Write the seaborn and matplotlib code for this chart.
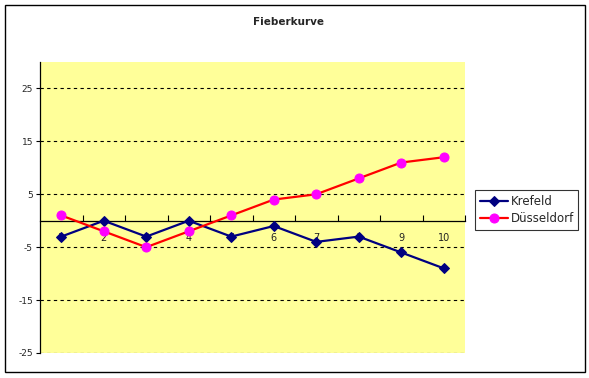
import numpy as np
import pandas as pd
import seaborn as sns
import matplotlib.pyplot as plt
from matplotlib.patches import Rectangle
from matplotlib.ticker import FixedLocator

days = [1, 2, 3, 4, 5, 6, 7, 8, 9, 10]
krefeld = [-3, 0, -3, 0, -3, -1, -4, -3, -6, -9]
duesseldorf = [1, -2, -5, -2, 1, 4, 5, 8, 11, 12]
y_ticks = [-25, -15, -5, 5, 15, 25]

sns.set_style("white")
plt.rcParams["font.family"] = ["DejaVu Sans"]

fig = plt.figure(figsize=(5.89, 3.78), dpi=100)
ax = fig.add_axes([40 / 589, 25 / 378, 425 / 589, 291 / 378])
ax.set_facecolor("#FFFF99")
ax.set_axisbelow(True)

sns.lineplot(x=days, y=krefeld, ax=ax, color="#000080", marker="D",
             markersize=5.5, markerfacecolor="#000080", markeredgecolor="#000080",
             linewidth=1.6, label="Krefeld", zorder=3)
sns.lineplot(x=days, y=duesseldorf, ax=ax, color="#FF0000", marker="o",
             markersize=6.5, markerfacecolor="#FF00FF", markeredgecolor="#FF00FF",
             linewidth=1.6, label="Düsseldorf", zorder=3)

ax.set_xlim(0.5, 10.5)
ax.set_ylim(-25, 30)

# y axis
ax.set_yticks(y_ticks)
ax.set_yticklabels([str(v) for v in y_ticks])
ax.tick_params(axis="y", direction="out", length=3, width=0.8, labelsize=6.5,
               pad=2, left=True, color="black")
for v in y_ticks:
    ax.axhline(v, color="black", linestyle=(0, (3, 3)), linewidth=0.8, zorder=1)

# x axis at zero
ax.spines["bottom"].set_position(("data", 0))
ax.spines["bottom"].set_zorder(1)
ax.set_xticks(days)
ax.set_xticklabels([str(d) for d in days])
ax.xaxis.set_minor_locator(FixedLocator(np.arange(1.5, 11, 1.0)))
ax.tick_params(axis="x", which="major", length=0, labelsize=7, pad=9,
               labelcolor="#222222")
ax.tick_params(axis="x", which="minor", direction="in", length=4, width=0.8,
               bottom=True, color="black")

for s in ["top", "right"]:
    ax.spines[s].set_visible(False)
ax.spines["left"].set_color("black")
ax.spines["bottom"].set_color("black")
ax.spines["left"].set_linewidth(0.9)
ax.spines["bottom"].set_linewidth(0.9)
ax.set_xlabel("")
ax.set_ylabel("")

leg = ax.legend(loc="upper left", bbox_to_anchor=(475 / 589, 188 / 378),
                bbox_transform=fig.transFigure, frameon=True, fancybox=False,
                fontsize=8.5, handlelength=2.4, handletextpad=0.2,
                borderpad=0.4, labelspacing=0.35, borderaxespad=0)
leg.get_frame().set_edgecolor("black")
leg.get_frame().set_linewidth(0.8)

fig.text(289 / 589, 1 - 22 / 378, "Fieberkurve", ha="center", va="center",
         fontsize=7.5, fontweight="bold")

fig.patches.append(Rectangle((5 / 589, 6 / 378), 580 / 589, 367 / 378,
                             transform=fig.transFigure, fill=False,
                             edgecolor="black", linewidth=1.0))

fig.savefig("out.png", dpi=100)
